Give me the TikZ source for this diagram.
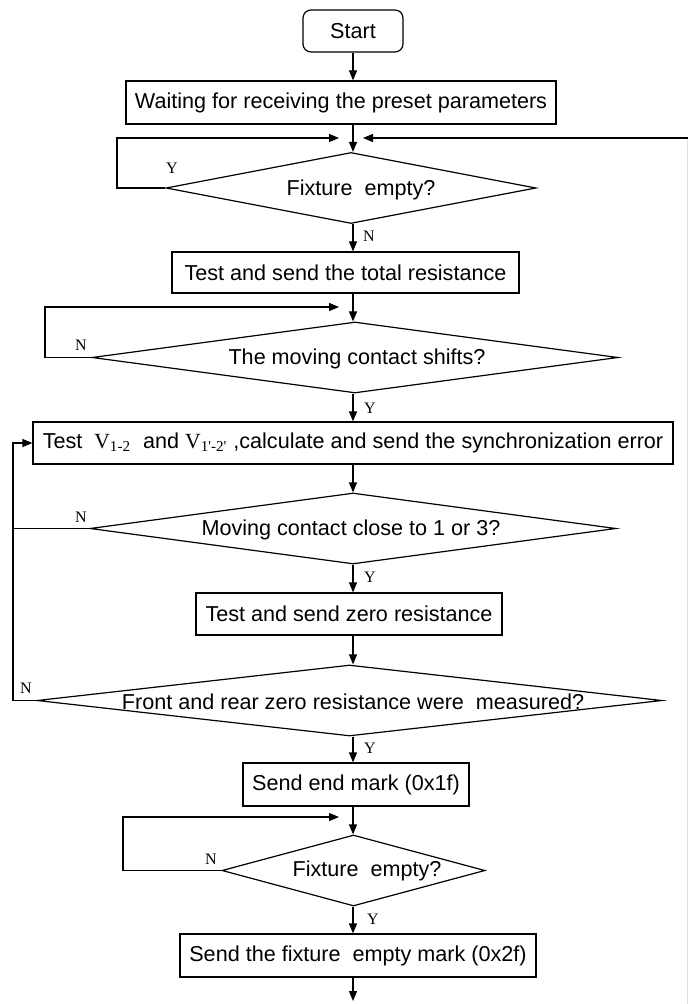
\documentclass[tikz,border=0pt]{standalone}
\usepackage{fontspec}
\setmainfont{Liberation Sans}
\newfontfamily\serifr{Liberation Serif}
\usetikzlibrary{shapes.geometric,arrows.meta}
\begin{document}
\begin{tikzpicture}[x=0.5pt,y=-0.5pt,
  font=\fontsize{10.8}{13}\selectfont,
  line width=0.6pt,
  box/.style={draw, rectangle, inner sep=1pt},
  startbox/.style={draw, rectangle, rounded corners=4pt, inner sep=1pt},
  dia/.style={draw, diamond, inner sep=0pt},
  arr/.style={-{Triangle[length=5pt,width=4pt]}},
  yn/.style={font=\serifr\fontsize{8}{8}\selectfont, inner sep=0pt},
  txt/.style={inner sep=0pt}]
\useasboundingbox (0,0) rectangle (688,1004);
\fill[white] (0,0) rectangle (688,1004);

% nodes
\node[startbox, minimum width=50pt, minimum height=21pt] (start) at (353,31) {Start};
\node[box, minimum width=215pt, minimum height=21.5pt] (wait) at (341,102.5) {Waiting for receiving the preset parameters};
\node[dia, minimum width=185pt, minimum height=35.5pt] (d1) at (351,188) {};
\node[txt] (d1t) at (361,190) {Fixture~ empty?};
\node[box, minimum width=173.5pt, minimum height=20.5pt] (total) at (345.5,272.5) {Test and send the total resistance};
\node[dia, minimum width=263pt, minimum height=35.5pt] (d2) at (355,357.5) {};
\node[txt] (d2t) at (357,359) {The moving contact shifts?};
\node[box, minimum width=320pt, minimum height=21pt] (sync) at (353,443) {Test~ {\serifr V\textsubscript{1-2}}~ and {\serifr V\textsubscript{1'-2'}} ,calculate and send the synchronization error};
\node[dia, minimum width=263pt, minimum height=35.5pt] (d3) at (353,528.5) {};
\node[txt] (d3t) at (351,530) {Moving contact close to 1 or 3?};
\node[box, minimum width=153pt, minimum height=21pt] (zero) at (349,614) {Test and send zero resistance};
\node[dia, minimum width=312.5pt, minimum height=35.5pt] (d4) at (349.5,700.5) {};
\node[txt] (d4t) at (353,702) {Front and rear zero resistance were~ measured?};
\node[box, minimum width=113pt, minimum height=21.5pt] (endm) at (356,784.5) {Send end mark (0x1f)};
\node[dia, minimum width=131.5pt, minimum height=35.5pt] (d5) at (353.5,870.5) {};
\node[txt] (d5t) at (367,871) {Fixture~ empty?};
\node[box, minimum width=178pt, minimum height=21.5pt] (fixm) at (358,955.5) {Send the fixture~ empty mark (0x2f)};

% helper coordinates
\coordinate (col) at (353,0);
\coordinate (j1) at (353,138);
\coordinate (j2) at (353,307);
\coordinate (j5) at (353,817);
\coordinate (l1) at (117,0);
\coordinate (l2) at (45,0);
\coordinate (l3) at (13,0);
\coordinate (l5) at (123,0);
\coordinate (rt) at (687.5,138);
\coordinate (rb) at (687.5,1004);
\coordinate (endc) at (353,1001);

% connectors
\draw[arr] (col|-start.south) -- (col|-wait.north);
\draw[arr] (col|-wait.south) -- (col|-d1.north);
\draw[arr] (d1.west) -- (l1|-d1.west) -- (l1|-j1) -- ([xshift=-7pt]j1);
\draw[gray!25, line width=0.4pt] (rb) -- (rt);
\draw[arr] (rt) -- ([xshift=5pt]j1);
\draw[arr] (col|-d1.south) -- (col|-total.north);
\draw[arr] (col|-total.south) -- (col|-d2.north);
\draw[arr] (d2.west) -- (l2|-d2.west) -- (l2|-j2) -- ([xshift=-7pt]j2);
\draw[arr] (col|-d2.south) -- (col|-sync.north);
\draw[arr] (col|-sync.south) -- (col|-d3.north);
\draw (d3.west) -- (l3|-d3.west);
\draw[arr] (d4.west) -- (l3|-d4.west) -- (l3|-sync.west) -- (sync.west);
\draw[arr] (col|-d3.south) -- (col|-zero.north);
\draw[arr] (col|-zero.south) -- (col|-d4.north);
\draw[arr] (col|-d4.south) -- (col|-endm.north);
\draw[arr] (col|-endm.south) -- (col|-d5.north);
\draw[arr] (d5.west) -- (l5|-d5.west) -- (l5|-j5) -- ([xshift=-7pt]j5);
\draw[arr] (col|-d5.south) -- (col|-fixm.north);
\draw[arr] (col|-fixm.south) -- (endc);

% Y/N labels
\node[yn] (y1) at (172,168) {Y};
\node[yn] (n1) at (369,236) {N};
\node[yn] (n2) at (81,345) {N};
\node[yn] (y2) at (370,408) {Y};
\node[yn] (n3) at (81,517) {N};
\node[yn] (y3) at (370,577) {Y};
\node[yn] (n4) at (26,688) {N};
\node[yn] (y4) at (370,748) {Y};
\node[yn] (n5) at (211,859) {N};
\node[yn] (y5) at (373,919) {Y};
\end{tikzpicture}
\end{document}
